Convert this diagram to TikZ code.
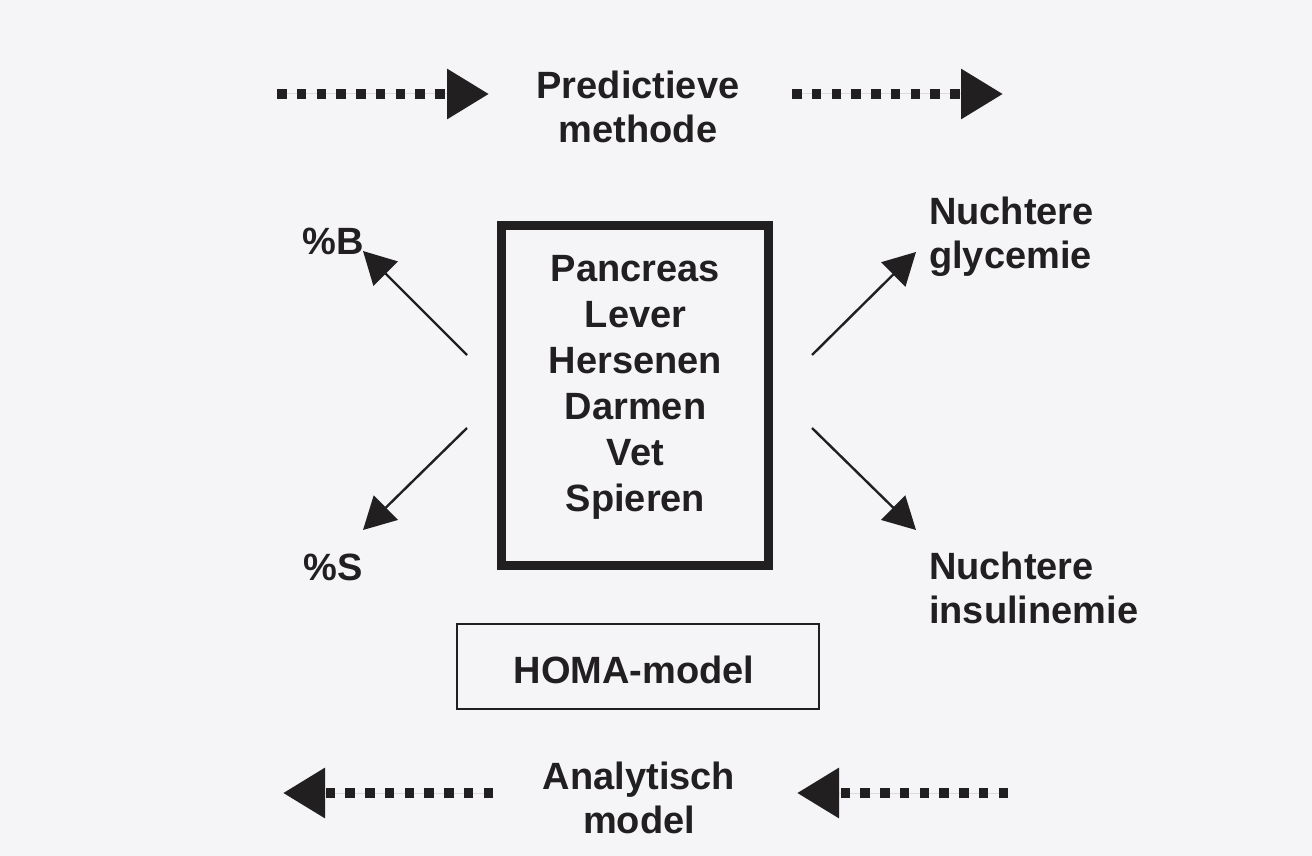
\documentclass[tikz,border=0pt]{standalone}
\usepackage{fontspec}
\setmainfont{Liberation Sans}
\usetikzlibrary{arrows.meta}
\definecolor{ink}{RGB}{34,31,33}
\definecolor{paper}{RGB}{245,244,247}
\tikzset{
  lbl/.style={text=ink, font=\bfseries\fontsize{38}{44}\selectfont, inner sep=0pt},
  dotarrow/.style={draw=ink, line width=9.5pt, dash pattern=on 9.5pt off 10.25pt,
     -{Triangle[length=42pt,width=48pt]}, fill=ink},
  diagarrow/.style={draw=ink, line width=2.4pt, -{Triangle[length=32pt,width=34pt]}},
  thickbox/.style={draw=ink, line width=9pt},
  thinbox/.style={draw=ink, line width=2.2pt}
}
\begin{document}
\begin{tikzpicture}[x=1pt,y=-1pt]
\fill[paper] (0,0) rectangle (1312,856);
\useasboundingbox (0,0) rectangle (1312,856);

% labels
\node[lbl, align=center] (pred) at (638,107) {Predictieve\\methode};
\node[lbl, align=center] (anal) at (639,798) {Analytisch\\model};
\node[lbl] (pB) at (333,241) {\%B};
\node[lbl] (pS) at (333,567) {\%S};
\node[lbl, align=left, anchor=west] (glyc) at (929,237) {Nuchtere\\glycemie};
\node[lbl, align=left, anchor=west] (insu) at (929,588) {Nuchtere\\insulinemie};

% organ box
\node[thickbox, minimum width=267pt, minimum height=340pt, inner sep=0pt] (organs) at (635,395.5) {};
\node[lbl, align=center, font=\bfseries\fontsize{38}{46}\selectfont] (organtext) at (635.5,387)
  {Pancreas\\Lever\\Hersenen\\Darmen\\Vet\\Spieren};

% HOMA box
\node[thinbox, minimum width=362pt, minimum height=85pt, inner sep=0pt] (homa) at (638,666.5) {};
\node[lbl] (homatext) at (634,670) {HOMA-model};

% dotted arrows
\coordinate (t1s) at (277,94);  \coordinate (t1e) at (489,94);
\coordinate (t2s) at (792,94);  \coordinate (t2e) at (1003,94);
\coordinate (b1s) at (493,793); \coordinate (b1e) at (283,793);
\coordinate (b2s) at (1008,793); \coordinate (b2e) at (797,793);
\draw[dotarrow] (t1s) -- (t1e);
\draw[dotarrow] (t2s) -- (t2e);
\draw[dotarrow] (b1s) -- (b1e);
\draw[dotarrow] (b2s) -- (b2e);

% diagonal arrows
\coordinate (lB) at (467,355); \coordinate (lBe) at (363,251);
\coordinate (lS) at (467,428); \coordinate (lSe) at (363,530);
\coordinate (rG) at (812,355); \coordinate (rGe) at (916,252);
\coordinate (rI) at (812,428); \coordinate (rIe) at (916,530);
\draw[diagarrow] (lB) -- (lBe);
\draw[diagarrow] (lS) -- (lSe);
\draw[diagarrow] (rG) -- (rGe);
\draw[diagarrow] (rI) -- (rIe);
\end{tikzpicture}
\end{document}
